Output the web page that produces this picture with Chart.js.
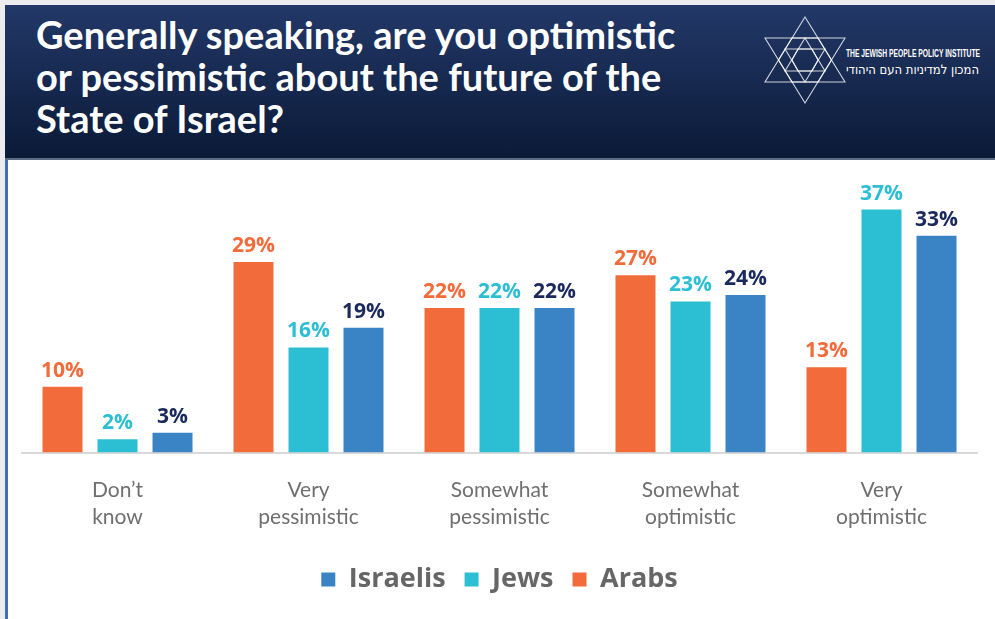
<!DOCTYPE html>
<html>
<head>
<meta charset="utf-8">
<script src="https://cdn.jsdelivr.net/npm/chart.js@4"></script>
<style>
  html, body { margin: 0; padding: 0; }
  body { width: 995px; height: 619px; background: #ecebf0; position: relative; overflow: hidden; }
  #header {
    position: absolute; left: 5px; top: 5px; width: 990px; height: 153px;
    background: linear-gradient(#223868, #0b1a37);
    border-bottom: 2px solid #5d6b84;
  }
  #title {
    position: absolute; left: 31px; top: 8px; margin: 0;
    font-family: Lato, sans-serif; font-weight: 700; font-size: 38px; line-height: 42px;
    color: #ffffff;
  }
  #logo { position: absolute; left: 0; top: 0; }
  #panel {
    position: absolute; left: 5px; top: 160px; width: 990px; height: 459px;
    background: #ffffff; border-left: 3px solid #3d6fbf; box-sizing: border-box;
  }
  #chart { position: absolute; left: 2px; top: 0; }
</style>
</head>
<body>
<div id="header">
  <h1 id="title">Generally speaking, are you optimistic<br>or pessimistic about the future of the<br>State of Israel?</h1>
  <svg id="logo" width="990" height="153" viewBox="5 5 990 153">
    <g fill="none" stroke="rgba(255,255,255,0.8)" stroke-width="1.1">
      <polygon points="805,17 765,82 845,82"/>
      <polygon points="805,103 765,38 845,38"/>
      <polygon points="792,38 818,38 831.5,60 818,82 792,82 778.5,60"/>
      <polygon points="805,38 785,71 825,71"/>
      <polygon points="805,82 785,49 825,49"/>
      <polygon points="798,49 812,49 818,60 812,71 798,71 792,60"/>
    </g>
    <text x="846" y="57" fill="#ffffff" font-family="'Liberation Sans Narrow', 'Liberation Sans', sans-serif"
          font-weight="700" font-size="10" textLength="134" lengthAdjust="spacingAndGlyphs">THE JEWISH PEOPLE POLICY INSTITUTE</text>
    <text x="846" y="74" fill="#ffffff" font-family="'DejaVu Sans', sans-serif"
          font-size="13" textLength="133" lengthAdjust="spacingAndGlyphs">המכון למדיניות העם היהודי</text>
  </svg>
</div>
<div id="panel">
  <canvas id="chart" width="988" height="459"></canvas>
</div>
<script>
// Survey answers, percent of each group
const categories = [
  ['Don’t', 'know'],
  ['Very', 'pessimistic'],
  ['Somewhat', 'pessimistic'],
  ['Somewhat', 'optimistic'],
  ['Very', 'optimistic']
];
const arabs = [10, 29, 22, 27, 13];
const jews = [2, 16, 22, 23, 37];
const israelis = [3, 19, 22, 24, 33];

const barColors = { arabs: '#f26b3a', jews: '#2cbfd3', israelis: '#3a84c6' };
const labelColors = ['#f26b3a', '#2cbfd3', '#1b2a5c'];

// Writes the percentage above each bar
const valueLabels = {
  id: 'valueLabels',
  afterDatasetsDraw(chart) {
    const ctx = chart.ctx;
    ctx.save();
    ctx.font = '700 21px "Open Sans", sans-serif';
    ctx.textAlign = 'center';
    ctx.textBaseline = 'alphabetic';
    chart.data.datasets.forEach((ds, i) => {
      ctx.fillStyle = labelColors[i];
      chart.getDatasetMeta(i).data.forEach((bar, j) => {
        ctx.fillText(ds.data[j] + '%', bar.x, bar.y - 10);
      });
    });
    ctx.restore();
  }
};

const ctx = document.getElementById('chart').getContext('2d');
new Chart(ctx, {
  type: 'bar',
  data: {
    labels: categories,
    datasets: [
      { label: 'Arabs', data: arabs, backgroundColor: barColors.arabs },
      { label: 'Jews', data: jews, backgroundColor: barColors.jews },
      { label: 'Israelis', data: israelis, backgroundColor: barColors.israelis }
    ]
  },
  options: {
    responsive: false,
    animation: false,
    devicePixelRatio: 1,
    categoryPercentage: 0.864,
    barPercentage: 0.727,
    layout: { padding: { left: 12, right: 21, top: 20, bottom: 16 } },
    plugins: {
      tooltip: { enabled: false },
      legend: {
        position: 'bottom',
        reverse: true,
        labels: {
          boxWidth: 14,
          boxHeight: 14,
          padding: 19,
          color: '#666666',
          font: { family: '"Open Sans", sans-serif', weight: '700', size: 27 }
        }
      }
    },
    scales: {
      x: {
        grid: { display: false },
        border: { display: true, color: '#d9d9d9', width: 2 },
        ticks: {
          color: '#6f6f6f',
          padding: 17,
          maxRotation: 0,
          autoSkip: false,
          font: { family: 'Lato, sans-serif', size: 21, lineHeight: 1.25 }
        }
      },
      y: {
        display: false,
        min: 0,
        max: 41.5
      }
    }
  },
  plugins: [valueLabels]
});
</script>
</body>
</html>
